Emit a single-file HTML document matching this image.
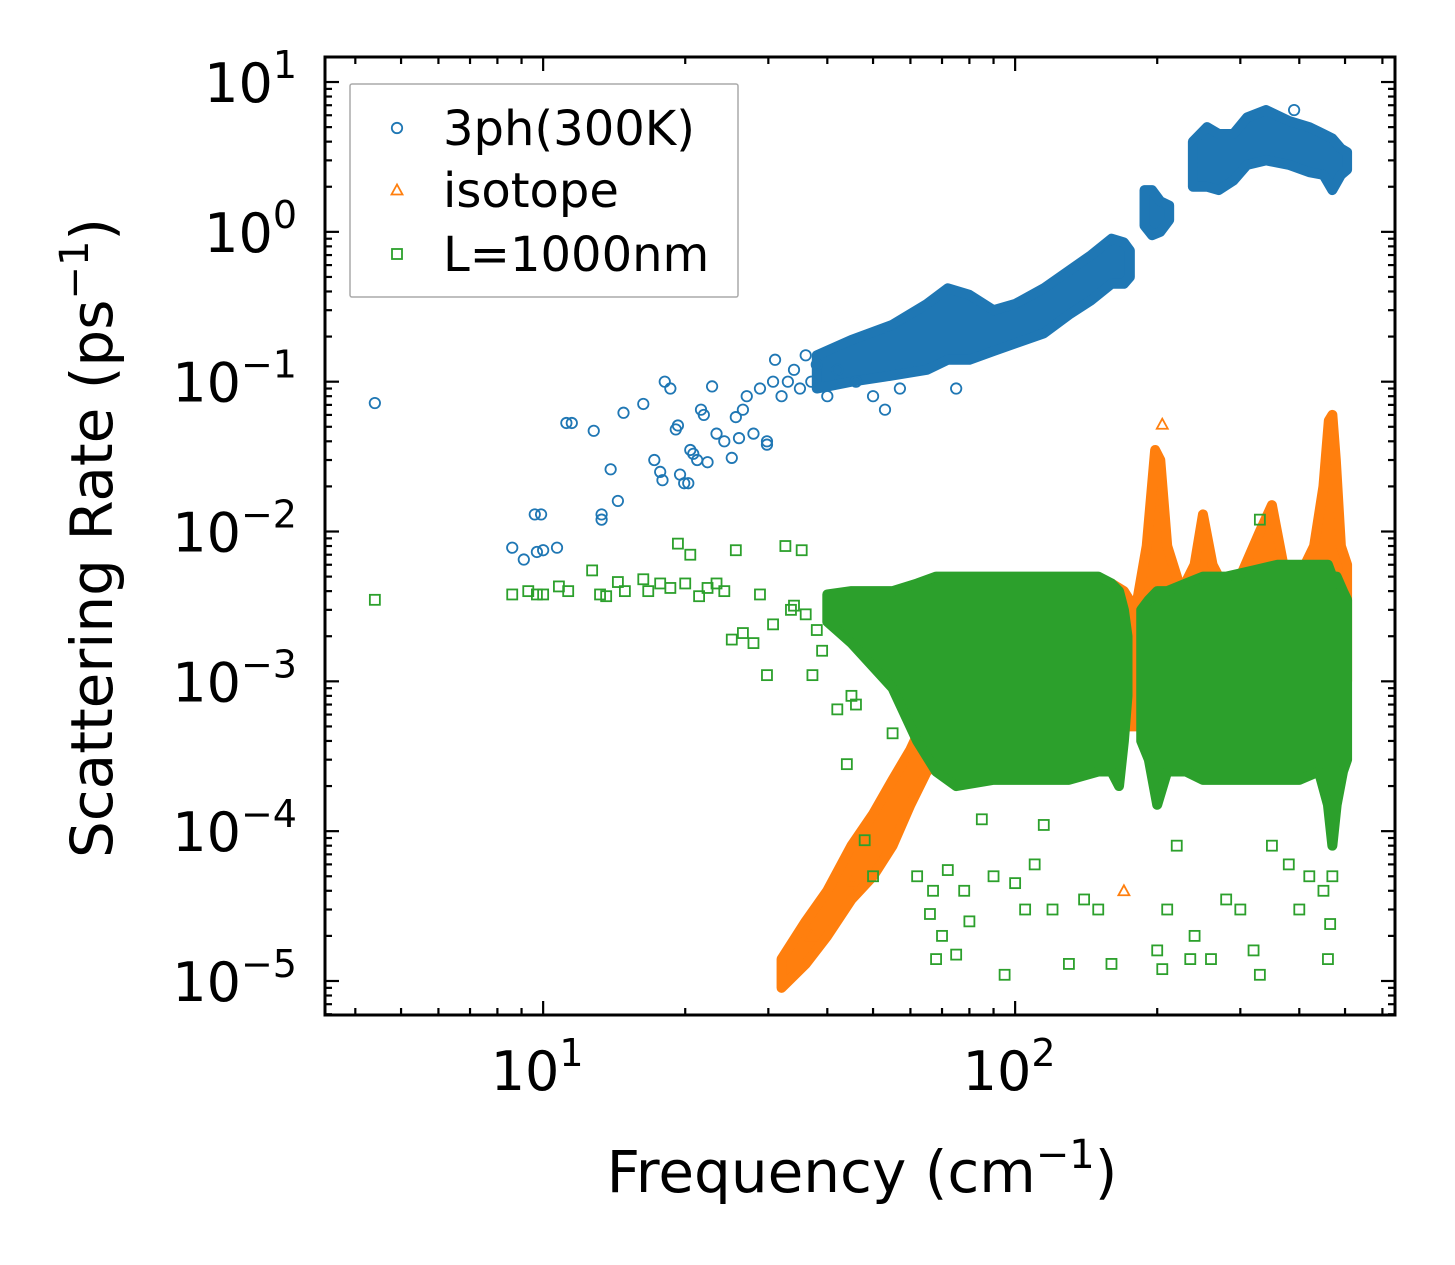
<!DOCTYPE html>
<html><head><meta charset="utf-8"><style>
body{margin:0;background:#fff;}
svg{display:block;font-family:"DejaVu Sans","Liberation Sans",sans-serif;}
</style></head><body>
<svg id="chart" width="1455" height="1265" xmlns="http://www.w3.org/2000/svg">
<g id="marks"></g>
<g id="axes"></g>
</svg>
<script>
// ---- data ----
const xTicks = [10, 100];
const yTicks = [-5, -4, -3, -2, -1, 0, 1];
const blueEnvF = [38, 45, 55, 65, 72, 80, 90, 100, 115, 130, 145, 160, 170, 175];
const blueEnvLo = [0.09, 0.1, 0.11, 0.12, 0.14, 0.14, 0.16, 0.18, 0.21, 0.28, 0.35, 0.45, 0.45, 0.5];
const blueEnvHi = [0.15, 0.19, 0.24, 0.33, 0.42, 0.38, 0.3, 0.33, 0.42, 0.55, 0.7, 0.9, 0.85, 0.75];
const blueEnv2F = [188, 195, 203, 212];
const blueEnv2Lo = [1.1, 0.95, 1.0, 1.2];
const blueEnv2Hi = [1.9, 1.9, 1.6, 1.5];
const blueEnv3F = [238, 255, 270, 290, 310, 340, 380, 420, 450, 470, 490, 505];
const blueEnv3Lo = [2.0, 2.0, 1.9, 2.2, 2.8, 3.0, 2.8, 2.5, 2.4, 1.9, 2.4, 2.6];
const blueEnv3Hi = [4.0, 5.0, 4.5, 4.5, 5.8, 6.5, 5.5, 5.0, 4.5, 4.2, 3.6, 3.4];
const blueF = [4.4, 8.6, 9.1, 9.6, 9.9, 9.7, 10, 10.7, 11.2, 11.5, 12.8, 13.3, 13.3, 13.9, 14.4, 14.8, 16.3, 17.2, 17.7, 17.9, 18.1, 18.6, 19.1, 19.3, 19.5, 19.9, 20.3, 20.5, 20.8, 21.2, 21.6, 21.9, 22.3, 22.8, 23.3, 24.2, 25.1, 25.6, 26, 26.5, 27, 27.9, 28.8, 29.8, 29.8, 30.7, 31, 32, 33, 34, 35, 36, 37, 38, 40, 42, 46, 50, 53, 57, 75, 390];
const blueV = [0.072, 0.0078, 0.0065, 0.013, 0.013, 0.0073, 0.0075, 0.0078, 0.053, 0.053, 0.047, 0.013, 0.012, 0.026, 0.016, 0.062, 0.071, 0.03, 0.025, 0.022, 0.1, 0.09, 0.048, 0.051, 0.024, 0.021, 0.021, 0.035, 0.033, 0.03, 0.065, 0.06, 0.029, 0.093, 0.045, 0.04, 0.031, 0.058, 0.042, 0.065, 0.08, 0.045, 0.09, 0.04, 0.038, 0.1, 0.14, 0.08, 0.1, 0.12, 0.09, 0.15, 0.1, 0.13, 0.08, 0.12, 0.1, 0.08, 0.065, 0.09, 0.09, 6.5];
const orEnvF = [32, 36, 40, 45, 50, 55, 60, 65, 70, 85, 100, 130, 150, 160, 170, 180, 190, 198, 203, 210, 225, 240, 250, 262, 280, 300, 330, 350, 370, 400, 430, 450, 462, 470, 478, 490, 505];
const orEnvLo = [9e-6, 1.3e-5, 2e-5, 3.5e-5, 5e-5, 8e-5, 1.5e-4, 2.5e-4, 3e-4, 3e-4, 3e-4, 4e-4, 5e-4, 5e-4, 5e-4, 5e-4, 6e-4, 8e-4, 1e-3, 1e-3, 1e-3, 1e-3, 1e-3, 1e-3, 1e-3, 1e-3, 1e-3, 1e-3, 1e-3, 1e-3, 1e-3, 1e-3, 1e-3, 1e-3, 1e-3, 1e-3, 1e-3];
const orEnvHi = [1.4e-5, 2.5e-5, 4e-5, 8e-5, 1.3e-4, 2.2e-4, 3.5e-4, 6e-4, 8e-4, 1.2e-3, 1.8e-3, 3e-3, 4e-3, 4.5e-3, 4e-3, 3e-3, 8e-3, 3.5e-2, 3e-2, 8e-3, 4e-3, 6e-3, 1.3e-2, 6e-3, 4e-3, 5e-3, 1e-2, 1.5e-2, 6e-3, 5e-3, 8e-3, 2e-2, 5.5e-2, 6e-2, 3e-2, 8e-3, 6e-3];
const orF = [37, 45, 170, 205];
const orV = [2e-5, 4.5e-5, 4e-5, 5.2e-2];
const grEnvF = [40, 45, 55, 62, 68, 75, 90, 110, 130, 150, 160, 166, 170, 173];
const grEnvLo = [2.5e-3, 1.8e-3, 9e-4, 4e-4, 2.5e-4, 2e-4, 2.2e-4, 2.2e-4, 2.2e-4, 2.5e-4, 2.5e-4, 2e-4, 4e-4, 8e-4];
const grEnvHi = [3.8e-3, 4e-3, 4e-3, 4.5e-3, 5e-3, 5e-3, 5e-3, 5e-3, 5e-3, 5e-3, 4.5e-3, 4e-3, 3e-3, 2e-3];
const grEnv2F = [185, 192, 200, 210, 230, 250, 280, 320, 360, 400, 440, 460, 470, 480, 495, 505];
const grEnv2Lo = [4e-4, 3e-4, 1.5e-4, 2.5e-4, 2.5e-4, 2.2e-4, 2.2e-4, 2.2e-4, 2.2e-4, 2.2e-4, 2.5e-4, 1.5e-4, 8e-5, 1.5e-4, 2.5e-4, 3e-4];
const grEnv2Hi = [3e-3, 3.5e-3, 4e-3, 4e-3, 4.5e-3, 5e-3, 5e-3, 5.5e-3, 6e-3, 6e-3, 6e-3, 6e-3, 5e-3, 5e-3, 4e-3, 3.5e-3];
const grF = [4.4, 8.6, 9.3, 9.7, 10, 10.8, 11.3, 12.7, 13.2, 13.6, 14.4, 14.9, 16.3, 16.7, 17.7, 18.6, 19.3, 20, 20.5, 21.4, 22.3, 23.3, 24.2, 25.1, 25.6, 26.5, 27.9, 28.8, 29.8, 30.7, 32.6, 33.5, 35.3, 37.2, 34, 36, 38, 39, 42, 44, 45, 46, 48, 50, 55, 58, 62, 66, 67, 68, 70, 72, 75, 78, 80, 85, 90, 95, 100, 105, 110, 115, 120, 130, 140, 150, 160, 200, 205, 210, 220, 235, 240, 260, 280, 300, 320, 330, 350, 380, 400, 420, 450, 460, 465, 470, 330];
const grV = [3.5e-3, 3.8e-3, 4e-3, 3.8e-3, 3.8e-3, 4.3e-3, 4e-3, 5.5e-3, 3.8e-3, 3.7e-3, 4.6e-3, 4e-3, 4.8e-3, 4e-3, 4.5e-3, 4.2e-3, 8.3e-3, 4.5e-3, 7e-3, 3.7e-3, 4.2e-3, 4.5e-3, 4e-3, 1.9e-3, 7.5e-3, 2.1e-3, 1.8e-3, 3.8e-3, 1.1e-3, 2.4e-3, 8e-3, 3e-3, 7.5e-3, 1.1e-3, 3.2e-3, 2.8e-3, 2.2e-3, 1.6e-3, 6.5e-4, 2.8e-4, 8e-4, 7e-4, 8.7e-5, 5e-5, 4.5e-4, 1.1e-3, 5e-5, 2.8e-5, 4e-5, 1.4e-5, 2e-5, 5.5e-5, 1.5e-5, 4e-5, 2.5e-5, 1.2e-4, 5e-5, 1.1e-5, 4.5e-5, 3e-5, 6e-5, 1.1e-4, 3e-5, 1.3e-5, 3.5e-5, 3e-5, 1.3e-5, 1.6e-5, 1.2e-5, 3e-5, 8e-5, 1.4e-5, 2e-5, 1.4e-5, 3.5e-5, 3e-5, 1.6e-5, 1.1e-5, 8e-5, 6e-5, 3e-5, 5e-5, 4e-5, 1.4e-5, 2.4e-5, 5e-5, 1.2e-2];

// ---- axes mapping ----
const L = 325, R = 1395, T = 57, B = 1015;
const xMin = Math.log10(3.45), xMax = Math.log10(638);
const yMin = -5.227, yMax = 1.167;
const sx = f => L + (Math.log10(f) - xMin) / (xMax - xMin) * (R - L);
const sy = v => B - (Math.log10(v) - yMin) / (yMax - yMin) * (B - T);
const NS = "http://www.w3.org/2000/svg";
const marks = document.getElementById('marks');
const axes = document.getElementById('axes');
function mk(tag, attrs, parent) { const e = document.createElementNS(NS, tag); for (const k in attrs) e.setAttribute(k, attrs[k]); parent.appendChild(e); return e; }

const C = {blue: '#1f77b4', orange: '#ff7f0e', green: '#2ca02c'};
function envelope(F, lo, hi, col, name) {
  const pts = F.map((f, i) => sx(f) + ',' + sy(hi[i])).concat(F.map((f, i) => sx(f) + ',' + sy(lo[i])).reverse());
  const p = mk('polygon', {points: pts.join(' '), fill: col, stroke: col, 'stroke-width': 10, 'stroke-linejoin': 'round'}, marks);
  
  
}
function marker(kind, x, y, col, parent) {
  let e;
  if (kind === 'o') e = mk('circle', {cx: x, cy: y, r: 5.2, fill: 'none', stroke: col, 'stroke-width': 1.8}, parent);
  else if (kind === '^') e = mk('polygon', {points: `${x},${y-5.5} ${x-5.5},${y+4.5} ${x+5.5},${y+4.5}`, fill: 'none', stroke: col, 'stroke-width': 1.8}, parent);
  else e = mk('rect', {x: x - 5, y: y - 5, width: 10, height: 10, fill: 'none', stroke: col, 'stroke-width': 1.8}, parent);
  return e;
}
function points(F, V, kind, col, name) {
  F.forEach((f, i) => {
    const e = marker(kind, sx(f), sy(V[i]), col, marks);
    
    
  });
}
envelope(blueEnvF, blueEnvLo, blueEnvHi, C.blue, 'blue-3ph-cloud');
envelope(blueEnv2F, blueEnv2Lo, blueEnv2Hi, C.blue, 'blue-3ph-cloud');
envelope(blueEnv3F, blueEnv3Lo, blueEnv3Hi, C.blue, 'blue-3ph-cloud');
points(blueF, blueV, 'o', C.blue, 'blue-3ph-point');
envelope(orEnvF, orEnvLo, orEnvHi, C.orange, 'orange-isotope-cloud');
points(orF, orV, '^', C.orange, 'orange-isotope-point');
envelope(grEnvF, grEnvLo, grEnvHi, C.green, 'green-boundary-cloud');
envelope(grEnv2F, grEnv2Lo, grEnv2Hi, C.green, 'green-boundary-cloud');
points(grF, grV, 's', C.green, 'green-boundary-point');

const fr = mk('rect', {x: L, y: T, width: R - L, height: B - T, fill: 'none', stroke: '#000', 'stroke-width': 3}, axes);
 
function tick(x1, y1, x2, y2) { mk('line', {x1, y1, x2, y2, stroke: '#000', 'stroke-width': 2.2}, axes); }
for (let d = 1; d <= 100; d *= 10) for (let m = 1; m <= 9; m++) {
  const f = d * m; const x = sx(f); if (x < L || x > R) continue;
  const len = m === 1 ? 14 : 7;
  tick(x, B, x, B - len); tick(x, T, x, T + len);
}
xTicks.forEach(v => {
  const t = mk('text', {x: sx(v) - 6, y: 1090, 'font-size': 54, 'text-anchor': 'middle'}, axes);
   
  t.innerHTML = `10<tspan dy="-24" font-size="38">${Math.log10(v)}</tspan>`;
});
for (let e = -6; e <= 1; e++) for (let m = 1; m <= 9; m++) {
  const y = sy(m * Math.pow(10, e)); if (y < T || y > B) continue;
  const len = m === 1 ? 14 : 7;
  tick(L, y, L + len, y); tick(R, y, R - len, y);
}
yTicks.forEach(e => {
  const t = mk('text', {x: 297, y: sy(Math.pow(10, e)) + 20, 'font-size': 54, 'text-anchor': 'end'}, axes);
   
  t.innerHTML = `10<tspan dy="-24" font-size="38">${e < 0 ? '\u2212' + (-e) : e}</tspan>`;
});
const xt = mk('text', {x: 862, y: 1192, 'font-size': 58, 'text-anchor': 'middle'}, axes);
 
xt.innerHTML = 'Frequency (cm<tspan dy="-24" font-size="40">\u22121</tspan><tspan dy="24">)</tspan>';
const yt = mk('text', {x: 0, y: 0, 'font-size': 58, 'text-anchor': 'middle', transform: 'translate(112,538) rotate(-90)'}, axes);
 
yt.innerHTML = 'Scattering Rate (ps<tspan dy="-24" font-size="40">\u22121</tspan><tspan dy="24">)</tspan>';
const lg = mk('g', {}, axes);
 
mk('rect', {x: 350, y: 84, width: 388, height: 213, fill: '#fff', 'fill-opacity': 0.8, stroke: '#aaa', 'stroke-width': 1.5, rx: 2}, lg);
const legItems = [['o', C.blue, '3ph(300K)', 128], ['^', C.orange, 'isotope', 190], ['s', C.green, 'L=1000nm', 254]];
legItems.forEach(([k, c, label, y]) => {
  const g = mk('g', {}, lg);
   
  marker(k, 397, y, c, g);
  const t = mk('text', {x: 443, y: y + 17, 'font-size': 48}, g);
  t.textContent = label;
});
</script>
</body></html>
